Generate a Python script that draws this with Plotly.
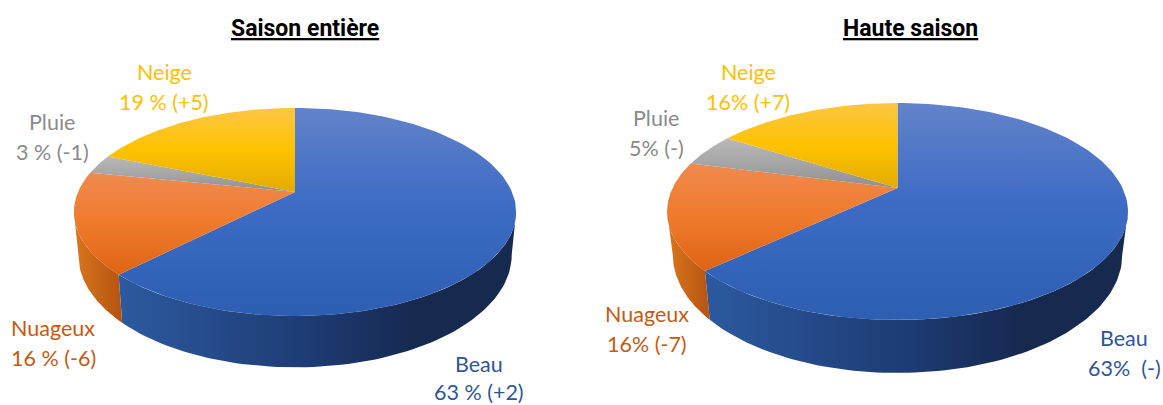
import numpy as np
import plotly.graph_objects as go

CATEGORIES = ["Beau", "Nuageux", "Pluie", "Neige"]
SAISON_ENTIERE = [63, 16, 3, 19]
HAUTE_SAISON = [63, 16, 5, 16]
LABELS_ENTIERE = [["Beau", "63 % (+2)"], ["Nuageux", "16 % (-6)"], ["Pluie", "3 % (-1)"], ["Neige", "19 % (+5)"]]
LABELS_HAUTE = [["Beau", "63%\u00a0 (-)"], ["Nuageux", "16% (-7)"], ["Pluie", "5% (-)"], ["Neige", "16% (+7)"]]
TITLES = ["Saison entière", "Haute saison"]

# Gradient stops run from the bottom of a slice (0) to its top (1) on the reversed y axis.
TOP_SCALES = {
    "Beau": [[0, "#2d5eb2"], [0.55, "#3e6cc5"], [1, "#6283ca"]],
    "Nuageux": [[0, "#df6415"], [0.5, "#ef7a2c"], [1, "#f08a4f"]],
    "Pluie": [[0, "#8f8f8f"], [0.5, "#a6a6a6"], [1, "#b8b8b8"]],
    "Neige": [[0, "#e2ac00"], [0.5, "#fec200"], [1, "#fdc645"]],
}
SIDE_SCALES = {
    "Beau": [[0, "#2c5a9f"], [0.5, "#1d3a72"], [0.75, "#16294f"], [1, "#16294f"]],
    "Nuageux": [[0, "#d9761f"], [1, "#b5540f"]],
    "Pluie": [[0, "#8c8c8c"], [1, "#707070"]],
    "Neige": [[0, "#d8a400"], [1, "#a07800"]],
}
TEXT_COLORS = {"Beau": "#2f5597", "Nuageux": "#c55a11", "Pluie": "#8a8a8a", "Neige": "#ffc000"}

PIES = [
    dict(cx=295, apex=192, R=217, B=100.2, k=0.192, D=41.5, shrink=0.98),
    dict(cx=897.5, apex=188, R=225, B=103.4, k=0.2166, D=41.5, shrink=0.975),
]
LABEL_POS = [
    [(479, 364, 392), (53, 328, 358), (52, 122, 152), (164, 72, 102)],
    [(1124, 338, 368), (647, 314, 344), (656, 118, 148), (748, 72, 102)],
]
TITLE_POS = [(305, 28), (910, 28)]


def rim(p, th):
    c = 1 + p["k"] * np.cos(th)
    return p["cx"] + p["R"] * np.sin(th) / c, p["apex"] - p["B"] * np.cos(th) / c


def low(p, th):
    x, y = rim(p, th)
    c = 1 + p["k"] * np.cos(th)
    return p["cx"] + (x - p["cx"]) * p["shrink"], y + p["D"] / c


fig = go.Figure()
for p, values in zip(PIES, [SAISON_ENTIERE, HAUTE_SAISON]):
    total = sum(values)
    edges = np.cumsum([0] + values) / total * 2 * np.pi
    th_r = np.arccos(-p["k"])
    th_l = 2 * np.pi - th_r
    for name, a, b in zip(CATEGORIES, edges[:-1], edges[1:]):
        a2, b2 = max(a, th_r), min(b, th_l)
        if a2 >= b2:
            continue
        th = np.linspace(a2, b2, 80)
        xt, yt = rim(p, th)
        xb, yb = low(p, th)
        fig.add_trace(go.Scatter(
            x=np.r_[xt, xb[::-1]], y=np.r_[yt, yb[::-1]], mode="lines",
            line=dict(width=0), fill="toself", hoverinfo="skip", showlegend=False,
            fillgradient=dict(type="horizontal", colorscale=SIDE_SCALES[name]),
        ))
    for name, a, b in zip(CATEGORIES, edges[:-1], edges[1:]):
        th = np.linspace(a, b, 120)
        xt, yt = rim(p, th)
        fig.add_trace(go.Scatter(
            x=np.r_[p["cx"], xt, p["cx"]], y=np.r_[p["apex"], yt, p["apex"]], mode="lines",
            line=dict(width=0), fill="toself", name=name, showlegend=False,
            fillgradient=dict(type="vertical", colorscale=TOP_SCALES[name]),
        ))

annotations = []
for title, (x, y) in zip(TITLES, TITLE_POS):
    annotations.append(dict(x=x, y=y, text=f"<b><u>{title}</u></b>", showarrow=False, xref="x", yref="y",
                            font=dict(family="Roboto", size=23, color="#000000")))
for labels, positions in zip([LABELS_ENTIERE, LABELS_HAUTE], LABEL_POS):
    for name, (l1, l2), (x, y1, y2) in zip(CATEGORIES, labels, positions):
        for txt, y in ((l1, y1), (l2, y2)):
            annotations.append(dict(x=x, y=y, text=txt, showarrow=False, xref="x", yref="y",
                                    font=dict(family="Lato", size=21.5, color=TEXT_COLORS[name])))

fig.update_layout(
    width=1163, height=405, margin=dict(l=0, r=0, t=0, b=0),
    paper_bgcolor="white", plot_bgcolor="white", annotations=annotations,
    xaxis=dict(range=[0, 1163], visible=False, fixedrange=True),
    yaxis=dict(range=[405, 0], visible=False, fixedrange=True),
)
fig.write_html("out.html", config=dict(displayModeBar=False),
               post_script="document.body.style.margin='0';document.body.style.overflow='hidden';")
